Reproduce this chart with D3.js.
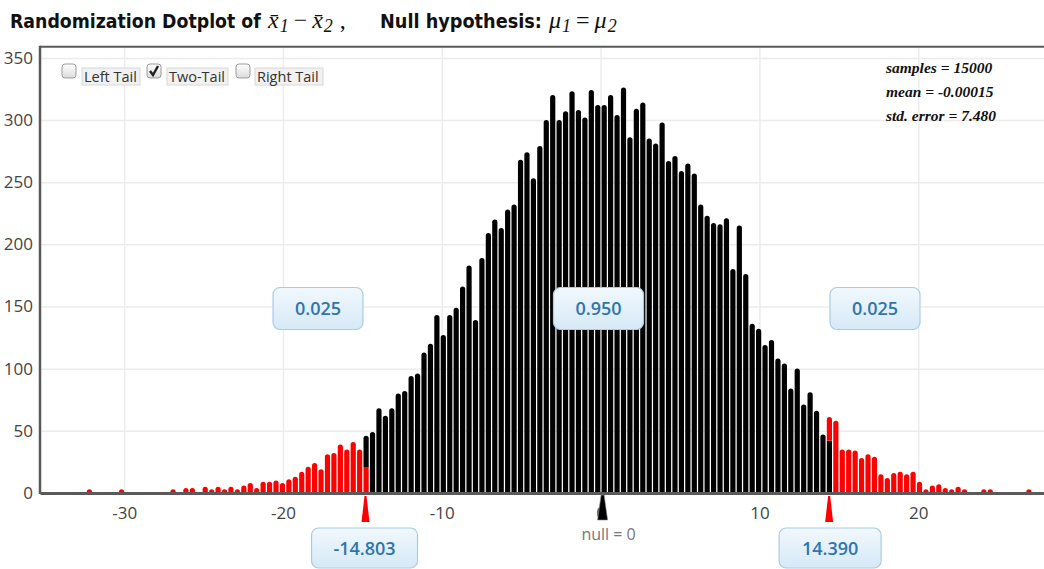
<!DOCTYPE html>
<html>
<head>
<meta charset="utf-8">
<script src="https://cdn.jsdelivr.net/npm/d3@7"></script>
<style>
  body { margin: 0; background: #fff; }
  svg { display: block; }
</style>
</head>
<body>
<svg id="chart" width="1044" height="569"></svg>
<script>
// ---- data ---------------------------------------------------------------
// Randomization distribution of x̄1 − x̄2: 15000 resamples, stacked in bins.
const binStart = -32.19;   // centre of the first bin
const binWidth = 0.4052;
const counts = [
  1, 0, 0, 0, 0, 1, 0, 0, 0, 0, 0, 0, 0, 1, 0, 2, 2, 0,
  3, 1, 3, 1, 3, 1, 4, 6, 2, 7, 7, 8, 6, 9, 11, 15, 19, 22, 17, 29, 30, 37, 33, 39, 33,
  44,
  47, 66, 60, 66, 78, 80, 92, 94, 111, 118, 141, 125, 141, 147, 164, 181, 137, 187, 207, 218, 211, 226, 230, 266, 272,
  251, 277, 298, 318, 298, 305, 321, 306, 300, 322, 310, 310, 318, 302, 324, 284, 307, 312, 283, 279, 296, 265, 269, 257, 263, 255,
  230, 221, 215, 214, 219, 178, 213, 174, 134, 130, 117, 121, 106, 102, 82, 98, 69, 79, 64, 45,
  59,
  56, 33, 33, 32, 26, 29, 27, 13, 10, 14, 15, 13, 15, 7, 1, 4, 5, 2, 1, 3, 1,
  0, 0, 1, 1, 0, 0, 0, 0, 0, 1
];
// bins that straddle a cutoff: how many of their dots lie below the cutoff value
const splitBins = [ { bin: 43, below: 21 }, { bin: 115, below: 42 } ];
const cutoffs = [-14.803, 14.390];
const cutoffLabels = ["-14.803", "14.390"];
const regionProps = ["0.025", "0.950", "0.025"];
const nullValue = 0;
const statLines = ["samples = 15000", "mean = -0.00015", "std. error = 7.480"];
const tailOptions = ["Left Tail", "Two-Tail", "Right Tail"];
const tailChecked = [false, true, false];
const xTicks = [-30, -20, -10, 0, 10, 20];
const yTicks = [0, 50, 100, 150, 200, 250, 300, 350];

// ---- layout -------------------------------------------------------------
const svg = d3.select("#chart");
const plotLeft = 40, plotRight = 1044, plotTop = 46.7, plotBottom = 493;

const x = d3.scaleLinear().domain([-35.30, 27.92]).range([plotLeft, plotRight]);
const y = d3.scaleLinear().domain([0, 359]).range([plotBottom, plotTop]);

const RED = "#ff0000", BLACK = "#000000";
const tickFont = "'Open Sans', 'Noto Sans', sans-serif";

const defs = svg.append("defs");
const boxGrad = defs.append("linearGradient").attr("id", "boxGrad")
  .attr("x1", 0).attr("y1", 0).attr("x2", 0).attr("y2", 1);
boxGrad.append("stop").attr("offset", "0%").attr("stop-color", "#f1f8fd");
boxGrad.append("stop").attr("offset", "100%").attr("stop-color", "#d6e9f7");
const cbGrad = defs.append("linearGradient").attr("id", "cbGrad")
  .attr("x1", 0).attr("y1", 0).attr("x2", 0).attr("y2", 1);
cbGrad.append("stop").attr("offset", "0%").attr("stop-color", "#fefefe");
cbGrad.append("stop").attr("offset", "100%").attr("stop-color", "#dcdcdc");

// ---- grid ---------------------------------------------------------------
svg.append("g")
  .attr("transform", `translate(${plotLeft},0)`)
  .call(d3.axisLeft(y).tickValues(yTicks.slice(1)).tickSize(-(plotRight - plotLeft)).tickFormat(""))
  .call(g => g.select(".domain").remove())
  .call(g => g.selectAll("line").attr("stroke", "#ececec").attr("stroke-width", 1.5));

svg.append("g")
  .attr("transform", `translate(0,${plotBottom})`)
  .call(d3.axisBottom(x).tickValues(xTicks).tickSize(-(plotBottom - plotTop)).tickFormat(""))
  .call(g => g.select(".domain").remove())
  .call(g => g.selectAll("line").attr("stroke", "#ececec").attr("stroke-width", 1.5));

// ---- bars (stacked dots drawn as round-topped columns) -----------------
const barW = 5.2, r = barW / 2;
const bins = counts.map((c, i) => ({ i, v: binStart + i * binWidth, c }));

function column(xc, from, to, cap) {
  // vertical segment between counts `from` and `to`; optional rounded cap
  const x0 = xc - barW / 2, yb = y(from), yt = y(to);
  if (!cap) return `M${x0},${yb}V${yt}H${x0 + barW}V${yb}Z`;
  return `M${x0},${yb}V${yt}A${r},${r} 0 0 1 ${x0 + barW},${yt}V${yb}Z`;
}
function tailColor(v) { return (v < cutoffs[0] || v > cutoffs[1]) ? RED : BLACK; }

const barG = svg.append("g");
bins.filter(d => d.c > 0).forEach(d => {
  const xc = x(d.v);
  const split = splitBins.find(s => s.bin === d.i);
  if (split) {
    const lowColor = d.v < 0 ? RED : BLACK;
    const highColor = d.v < 0 ? BLACK : RED;
    barG.append("path").attr("d", column(xc, 0, split.below, false)).attr("fill", lowColor);
    barG.append("path").attr("d", column(xc, split.below, d.c, true)).attr("fill", highColor);
  } else {
    barG.append("path").attr("d", column(xc, 0, d.c, true)).attr("fill", tailColor(d.v));
  }
});

// ---- frame and axes -----------------------------------------------------
svg.append("line").attr("x1", plotLeft).attr("x2", plotRight).attr("y1", plotTop).attr("y2", plotTop)
  .attr("stroke", "#5a5a5a").attr("stroke-width", 2);
svg.append("line").attr("x1", plotLeft).attr("x2", plotLeft).attr("y1", plotTop - 1).attr("y2", plotBottom + 1)
  .attr("stroke", "#5a5a5a").attr("stroke-width", 2.5);

svg.append("g")
  .attr("transform", `translate(${plotLeft},0)`)
  .call(d3.axisLeft(y).tickValues(yTicks).tickSize(0).tickPadding(7))
  .call(g => g.select(".domain").remove())
  .call(g => g.selectAll("text").attr("font-family", tickFont).attr("font-size", 17)
    .attr("fill", "#444"));

svg.append("g")
  .attr("transform", `translate(0,${plotBottom})`)
  .call(d3.axisBottom(x).tickValues(xTicks).tickSize(0).tickPadding(14))
  .call(g => g.select(".domain").attr("stroke", "#5a5a5a").attr("stroke-width", 3))
  .call(g => g.selectAll("text").attr("font-family", tickFont).attr("font-size", 17)
    .attr("fill", "#444").text(d => d < 0 ? "-" + Math.abs(d) : d));

// ---- cutoff and null markers -------------------------------------------
cutoffs.forEach(c => {
  const xc = x(c);
  svg.append("path")
    .attr("d", `M${xc - 1},${plotBottom + 3}L${xc + 1},${plotBottom + 3}L${xc + 4},${plotBottom + 29}L${xc - 4},${plotBottom + 29}Z`)
    .attr("fill", RED);
});
const xn = x(nullValue) + 2;
svg.append("path")
  .attr("d", `M${xn - 1.5},${plotBottom + 2}L${xn + 1.5},${plotBottom + 2}L${xn + 5},${plotBottom + 27}L${xn - 5},${plotBottom + 27}Z`)
  .attr("fill", BLACK).attr("stroke", "#888").attr("stroke-width", 0.6);
svg.append("text").attr("x", xn + 6).attr("y", 540).attr("text-anchor", "middle")
  .attr("font-family", tickFont).attr("font-size", 16).attr("fill", "#777")
  .text(`null = ${nullValue}`);

// ---- proportion and cutoff boxes ---------------------------------------
function valueBox(cx, top, w, h, label) {
  const g = svg.append("g");
  g.append("rect").attr("x", cx - w / 2).attr("y", top).attr("width", w).attr("height", h)
    .attr("rx", 7).attr("fill", "url(#boxGrad)").attr("stroke", "#a9cce6").attr("stroke-width", 1.2);
  g.append("text").attr("x", cx).attr("y", top + h / 2 + 6.5).attr("text-anchor", "middle")
    .attr("font-family", tickFont).attr("font-weight", 600).attr("font-size", 18)
    .attr("fill", "#2f75ae").text(label);
}
const propCentres = [318, 598.5, 875];
regionProps.forEach((p, k) => valueBox(propCentres[k], 287.5, 90, 42, p));
cutoffs.forEach((c, k) => valueBox(x(c) + (k === 0 ? -1 : 1), 528, k === 0 ? 106 : 102, 40, cutoffLabels[k]));

// ---- tail selector ------------------------------------------------------
const optX = [62, 147, 236], labelX = [82, 167, 255], labelW = [58, 61, 68];
tailOptions.forEach((t, k) => {
  const g = svg.append("g");
  g.append("rect").attr("x", optX[k]).attr("y", 64).attr("width", 14).attr("height", 14).attr("rx", 3)
    .attr("fill", "url(#cbGrad)").attr("stroke", "#9b9b9b").attr("stroke-width", 1);
  if (tailChecked[k]) {
    g.append("path")
      .attr("d", `M${optX[k] + 3},${71}L${optX[k] + 6},${75}L${optX[k] + 11},${66}`)
      .attr("fill", "none").attr("stroke", "#222").attr("stroke-width", 2.4);
  }
  g.append("rect").attr("x", labelX[k]).attr("y", 68).attr("width", labelW[k]).attr("height", 17)
    .attr("fill", "#f1f1f1").attr("stroke", "#d8d8d8").attr("stroke-width", 1);
  g.append("text").attr("x", labelX[k] + 2).attr("y", 82)
    .attr("font-family", tickFont).attr("font-size", 14.5).attr("fill", "#333").text(t);
});

// ---- summary statistics -------------------------------------------------
statLines.forEach((s, k) => {
  svg.append("text").attr("x", 886).attr("y", 73 + k * 24)
    .attr("font-family", "'Liberation Serif', 'DejaVu Serif', serif")
    .attr("font-style", "italic").attr("font-weight", "bold").attr("font-size", 15.5)
    .attr("fill", "#111").text(s);
});

// ---- title --------------------------------------------------------------
const titleFont = "'DejaVu Sans Condensed', 'DejaVu Sans', sans-serif";
const mathFont = "'Liberation Serif', 'DejaVu Serif', serif";
const title = svg.append("g").attr("fill", "#111");

// plain title words, sized so they fill the wanted width naturally
function titleWords(px, txt, width) {
  const t = title.append("text").attr("x", px).attr("y", 28)
    .attr("font-family", titleFont).attr("font-weight", "bold").attr("font-size", 22).text(txt);
  const w = t.node().getComputedTextLength();
  t.attr("font-size", 22 * width / w);
  return t;
}
titleWords(10, "Randomization Dotplot of", 251);
titleWords(380, "Null hypothesis:", 162);

// math symbols laid out left to right, each after the measured previous one
function mathRun(startX, pieces) {
  let cx = startX;
  pieces.forEach(p => {
    const t = title.append("text").attr("x", cx + (p.gap || 0)).attr("y", 28 + (p.sub ? 4 : 0))
      .attr("font-family", mathFont).attr("font-style", p.italic ? "italic" : "normal")
      .attr("font-size", p.sub ? 18 : 24).text(p.t);
    cx += (p.gap || 0) + t.node().getComputedTextLength();
  });
}
mathRun(268, [
  { t: "x\u0304", italic: true },
  { t: "1", italic: true, sub: true, gap: 1 },
  { t: "\u2212", gap: 5 },
  { t: "x\u0304", italic: true, gap: 5 },
  { t: "2", italic: true, sub: true, gap: 1 },
  { t: ",", gap: 7 }
]);
mathRun(549, [
  { t: "\u03bc", italic: true },
  { t: "1", italic: true, sub: true, gap: 1 },
  { t: "=", gap: 5 },
  { t: "\u03bc", italic: true, gap: 5 },
  { t: "2", italic: true, sub: true, gap: 1 }
]);
</script>
</body>
</html>
